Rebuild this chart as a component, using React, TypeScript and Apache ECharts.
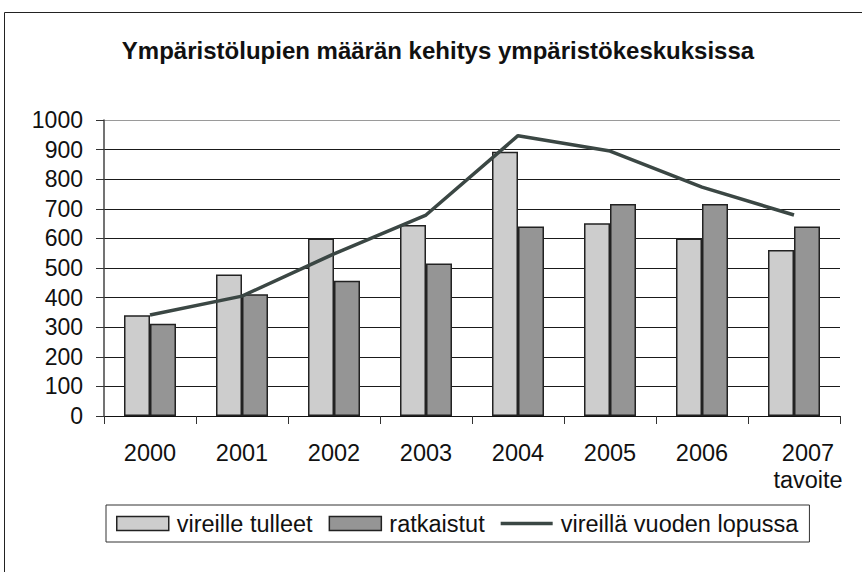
import React, { useEffect, useRef } from "react";
import * as echarts from "echarts";

const title = "Ympäristölupien määrän kehitys ympäristökeskuksissa";
const categories = ["2000", "2001", "2002", "2003", "2004", "2005", "2006", "2007"];
const categorySubLabels = ["", "", "", "", "", "", "", "tavoite"];
const seriesNames = ["vireille tulleet", "ratkaistut", "vireillä vuoden lopussa"];
const vireilleTulleet = [340, 478, 600, 645, 893, 651, 600, 561];
const ratkaistut = [312, 411, 457, 515, 640, 716, 716, 640];
const vireillaLopussa = [341, 405, 548, 679, 947, 895, 773, 679];
const yTicks = [0, 100, 200, 300, 400, 500, 600, 700, 800, 900, 1000];

const FONT = "'Liberation Sans', Arial, sans-serif";

export default function App() {
  const ref = useRef<HTMLDivElement>(null);
  useEffect(() => {
    if (!ref.current) return;
    const chart = echarts.init(ref.current, undefined, { renderer: "svg" });
    const splitColors = yTicks.map((v, i) => (i === yTicks.length - 1 ? "#9a9a9a" : "#1a1a1a"));
    chart.setOption({
      animation: false,
      backgroundColor: "#ffffff",
      textStyle: { fontFamily: FONT },
      title: {
        text: title,
        left: 433,
        top: 33,
        textAlign: "center",
        textStyle: { fontFamily: FONT, fontSize: 24, fontWeight: "bold", color: "#111" },
      },
      graphic: [
        {
          type: "rect",
          shape: { x: 4.5, y: 12.5, width: 900, height: 600 },
          style: { fill: "none", stroke: "#222", lineWidth: 1 },
          silent: true,
          z: 0,
        },
      ],
      grid: { left: 104, right: 22, top: 120, bottom: 156, containLabel: false },
      legend: {
        left: 106,
        top: 505,
        padding: [6, 11, 6, 10],
        borderColor: "#333",
        borderWidth: 1,
        itemGap: 16,
        itemWidth: 52,
        itemHeight: 14,
        textStyle: { fontFamily: FONT, fontSize: 23.5, color: "#111", lineHeight: 25, padding: [0, 0, 0, 3] },
        data: [
          { name: seriesNames[0], icon: "rect", itemStyle: { borderColor: "#222", borderWidth: 1.5 } },
          { name: seriesNames[1], icon: "rect", itemStyle: { borderColor: "#222", borderWidth: 1.5 } },
          { name: seriesNames[2], icon: "path://M0,0 L52,0 L52,3.5 L0,3.5 Z" },
        ],
      },
      xAxis: {
        type: "category",
        data: categories,
        boundaryGap: true,
        axisLine: { lineStyle: { color: "#111", width: 1 } },
        axisTick: { show: true, length: 8, lineStyle: { color: "#333" } },
        axisLabel: {
          interval: 0,
          margin: 23,
          fontFamily: FONT,
          fontSize: 23.5,
          color: "#111",
          lineHeight: 27,
          formatter: (v: string, i: number) =>
            categorySubLabels[i] ? `{s|${v}}\n{s|${categorySubLabels[i]}}` : v,
          rich: {
            s: { fontFamily: FONT, fontSize: 23.5, color: "#111", padding: [0, 0, 0, 28], lineHeight: 27 },
          },
        },
      },
      yAxis: {
        type: "value",
        min: 0,
        max: 1000,
        interval: 100,
        axisLine: { show: true, lineStyle: { color: "#444", width: 1.5 } },
        axisTick: { show: true, length: 8, lineStyle: { color: "#333" } },
        axisLabel: {
          margin: 21,
          fontFamily: FONT,
          fontSize: 23,
          color: "#111",
          formatter: (v: number) => String(v),
        },
        splitLine: { show: true, lineStyle: { color: splitColors, width: 1 } },
      },
      series: [
        {
          name: seriesNames[0],
          type: "bar",
          data: vireilleTulleet,
          barWidth: 26,
          barGap: "0%",
          itemStyle: { color: "#cdcdcd", borderColor: "#222", borderWidth: 1.5 },
        },
        {
          name: seriesNames[1],
          type: "bar",
          data: ratkaistut,
          barWidth: 26,
          barGap: "0%",
          itemStyle: { color: "#959595", borderColor: "#222", borderWidth: 1.5 },
        },
        {
          name: seriesNames[2],
          type: "line",
          data: vireillaLopussa,
          symbol: "none",
          lineStyle: { color: "#3b4744", width: 3.5 },
          itemStyle: { color: "#3b4744" },
          z: 5,
        },
      ],
    });
    return () => chart.dispose();
  }, []);
  return (
    <div
      ref={ref}
      style={{ position: "fixed", left: 0, top: 0, width: 862, height: 572 }}
    />
  );
}
